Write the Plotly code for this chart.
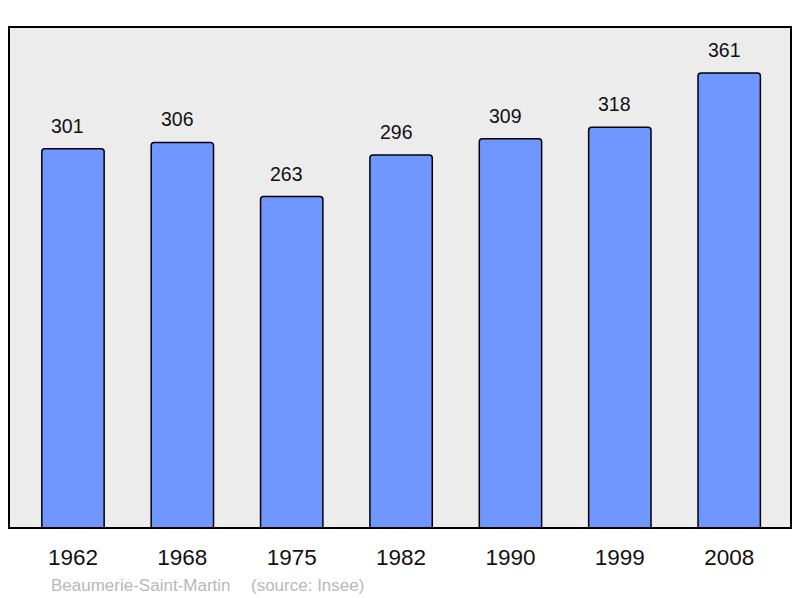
import plotly.graph_objects as go

years = ["1962", "1968", "1975", "1982", "1990", "1999", "2008"]
population = [301, 306, 263, 296, 309, 318, 361]

idx = list(range(len(years)))

fig = go.Figure()
fig.add_trace(go.Bar(
    x=idx, y=population, width=0.57,
    marker=dict(color="#7096ff", line=dict(color="#000000", width=1.5), cornerradius=3),
    hoverinfo="skip",
))

for i, v in zip(idx, population):
    fig.add_annotation(x=i, y=v, text=str(v), showarrow=False, yanchor="bottom",
                       yshift=10, xshift=-5, font=dict(size=19.5, color="#111111"))

fig.add_annotation(xref="paper", yref="paper", x=(49 - 9) / 782, y=(528 - 585) / 501,
                   text="Beaumerie-Saint-Martin", showarrow=False, xanchor="left", yanchor="middle",
                   font=dict(size=17, color="#b8b8b8"))
fig.add_annotation(xref="paper", yref="paper", x=(249 - 9) / 782, y=(528 - 585) / 501,
                   text="(source: Insee)", showarrow=False, xanchor="left", yanchor="middle",
                   font=dict(size=17, color="#b8b8b8"))

fig.add_shape(type="rect", xref="paper", yref="paper", x0=0, x1=1, y0=0, y1=1,
              line=dict(color="#000000", width=2), layer="above")

fig.update_layout(
    width=800, height=598,
    margin=dict(l=9, r=9, t=27, b=70),
    paper_bgcolor="#ffffff", plot_bgcolor="#ececec",
    font=dict(family="Liberation Sans, Arial, sans-serif"),
    showlegend=False,
    xaxis=dict(range=[-0.585, 6.565], tickvals=idx, ticktext=years, showgrid=False,
               zeroline=False, ticks="outside", ticklen=9, tickcolor="rgba(0,0,0,0)",
               tickfont=dict(size=22.5, color="#111111"), fixedrange=True),
    yaxis=dict(range=[0, 397.6], showgrid=False, zeroline=False, showticklabels=False,
               fixedrange=True),
)

fig.write_html("out.html", config={"displayModeBar": False},
               post_script="document.body.style.margin='0';document.body.style.overflow='hidden';")
